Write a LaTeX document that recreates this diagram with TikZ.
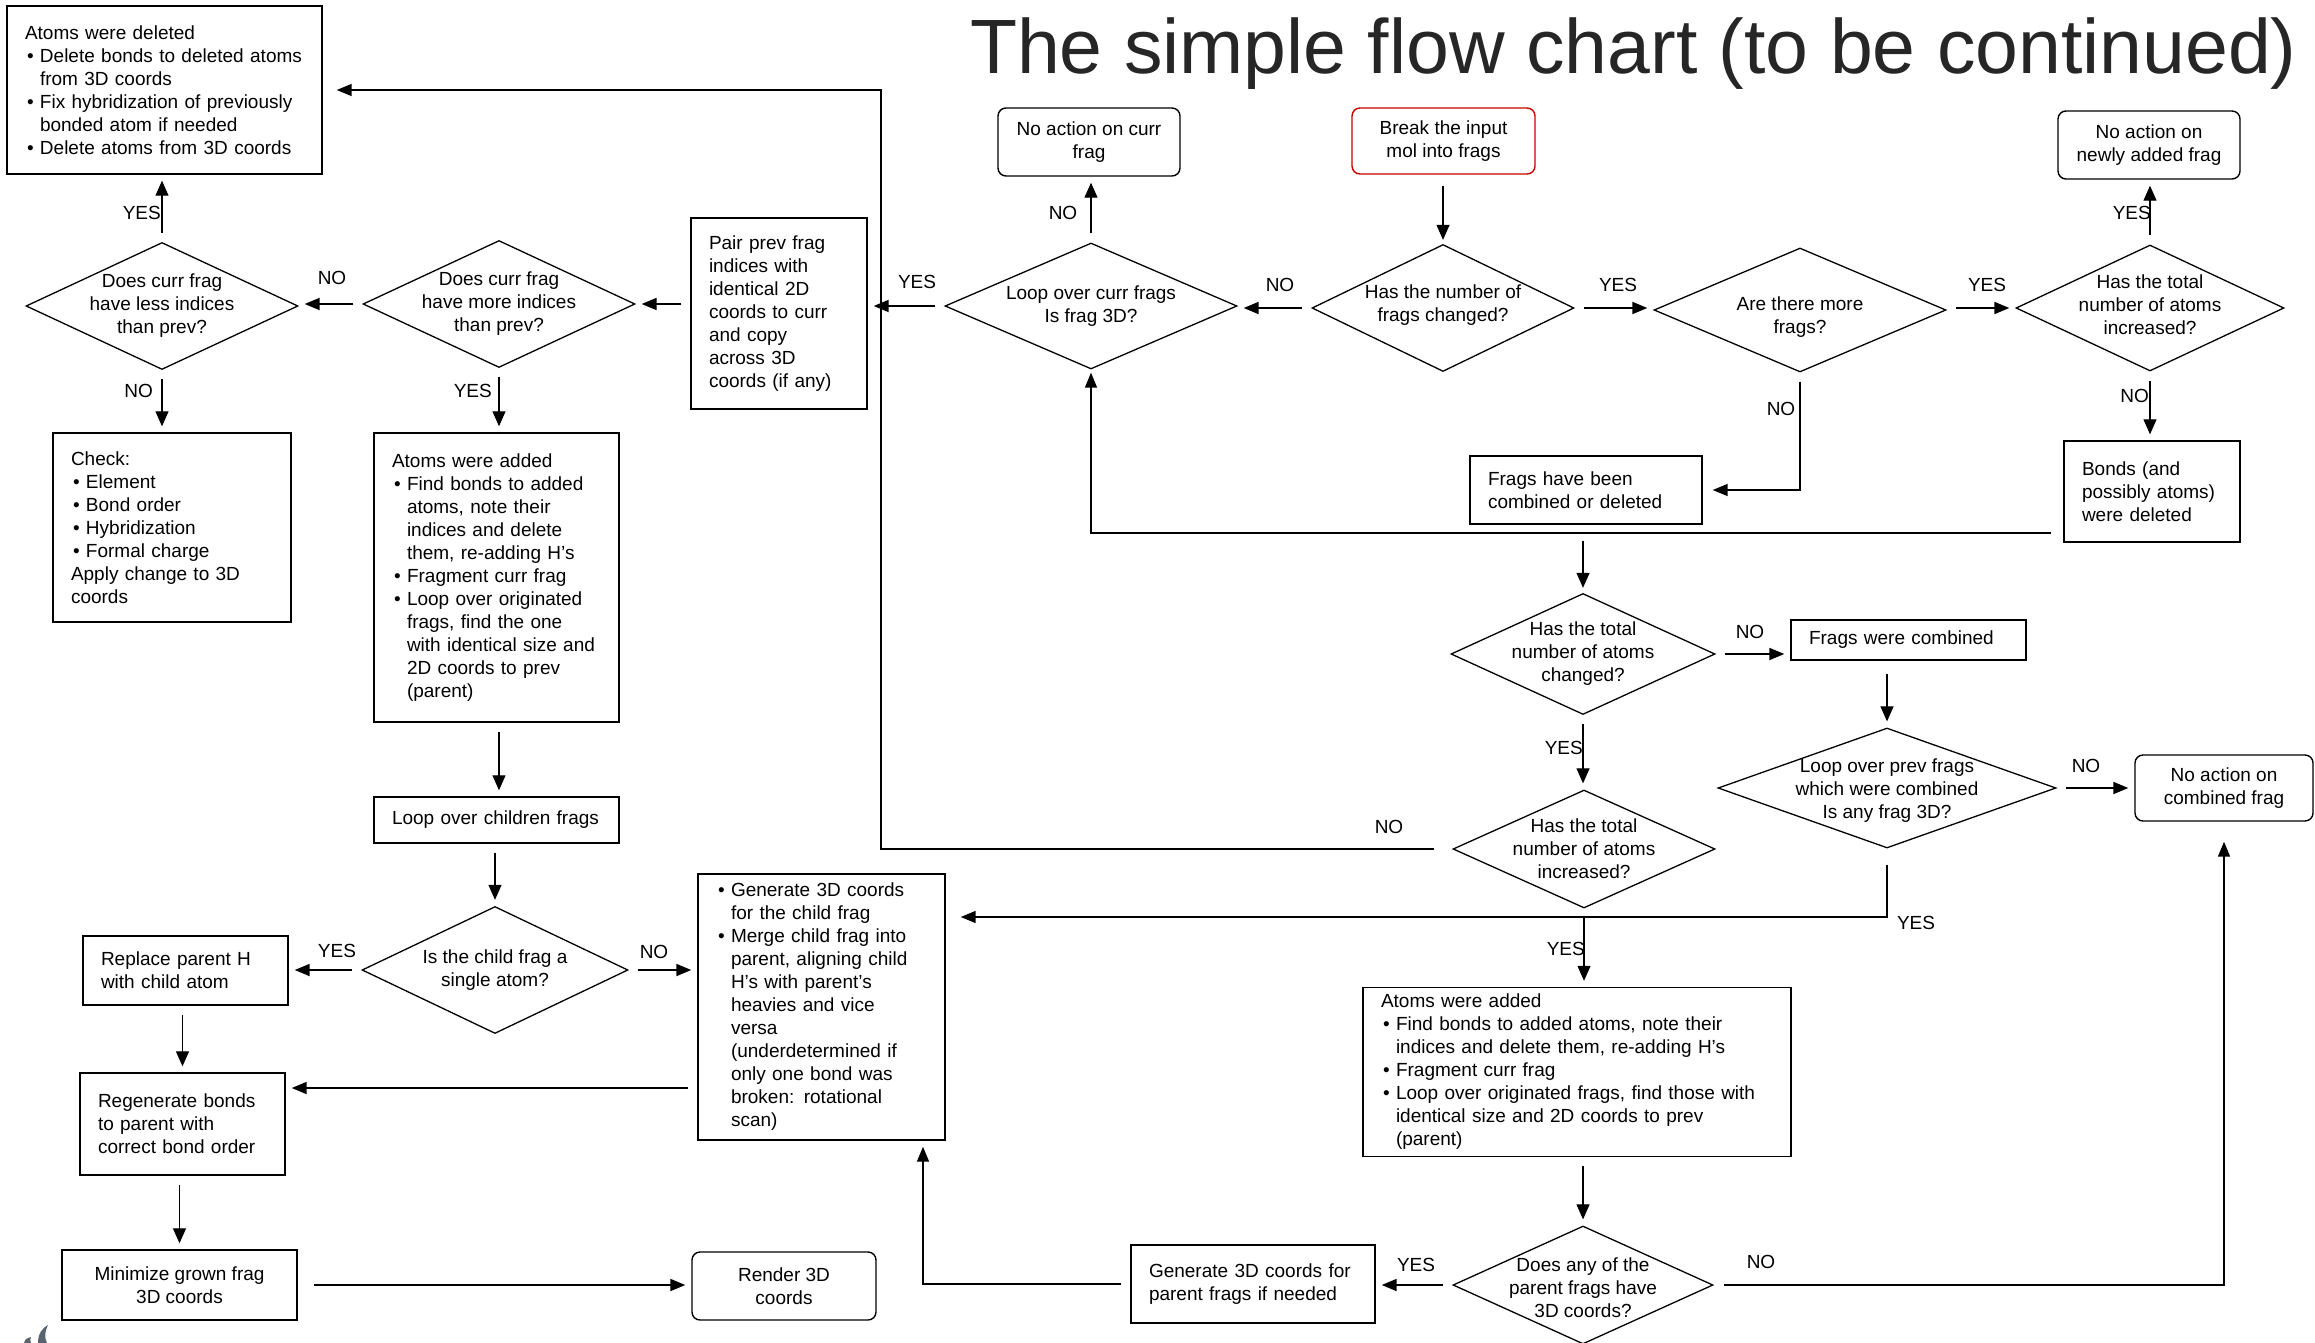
\documentclass[tikz,border=0pt]{standalone}
\usepackage{fontspec}
\setmainfont{Liberation Sans}
\usetikzlibrary{shapes.geometric,arrows.meta}
\definecolor{redline}{RGB}{200,0,0}
\definecolor{logogray}{RGB}{90,100,112}
\newcommand\bul{\hspace*{2pt}\makebox[13pt][l]{•}}
\newcommand\ind{\hspace*{15pt}}
\begin{document}
\begin{tikzpicture}[x=1pt,y=-1pt,
  every node/.style={font=\fontsize{19}{23}\selectfont},
  box/.style={draw, line width=1.4pt, rectangle, inner xsep=18pt, inner ysep=0pt, align=left},
  cbox/.style={draw, line width=1.4pt, rectangle, inner sep=0pt, align=center},
  rbox/.style={draw, line width=1.4pt, rounded corners=8pt, inner sep=0pt, align=center},
  dia/.style={draw, line width=1.3pt, diamond, inner sep=0pt},
  dtext/.style={align=center, inner sep=0pt},
  lbl/.style={inner sep=0pt},
  arr/.style={line width=1.5pt, -{Triangle[length=15pt,width=12pt]}, shorten <=9pt, shorten >=6pt},
  harr/.style={arr, line width=1.8pt},
  varr/.style={arr, line width=1.2pt, -{Triangle[length=15pt,width=13pt]}},
]
\useasboundingbox (0,0) rectangle (2315,1343);
\fill[white] (0,0) rectangle (2315,1343);

% title
\node[anchor=base east, inner sep=0pt, font=\fontsize{77}{80}\selectfont, text=black!85] (title) at (2297,74) {The simple flow chart (to be continued)};

% boxes
\node[box, minimum width=315pt, minimum height=168pt, text width=279pt] (delbox) at (164.5,90) {Atoms were deleted\\
\bul Delete bonds to deleted atoms\\
\ind from 3D coords\\
\bul Fix hybridization of previously\\
\ind bonded atom if needed\\
\bul Delete atoms from 3D coords};

\node[box, minimum width=238pt, minimum height=189pt, text width=202pt] (check) at (172,527.5) {Check:\\
\bul Element\\
\bul Bond order\\
\bul Hybridization\\
\bul Formal charge\\
Apply change to 3D\\
coords};

\node[box, minimum width=245pt, minimum height=289pt, text width=209pt] (addL) at (496.5,577.5) {Atoms were added\\
\bul Find bonds to added\\
\ind atoms, note their\\
\ind indices and delete\\
\ind them, re-adding H’s\\
\bul Fragment curr frag\\
\bul Loop over originated\\
\ind frags, find the one\\
\ind with identical size and\\
\ind 2D coords to prev\\
\ind (parent)};

\node[box, minimum width=176pt, minimum height=191pt, text width=140pt] (pair) at (779,313.5) {Pair prev frag\\
indices with\\
identical 2D\\
coords to curr\\
and copy\\
across 3D\\
coords (if any)};

\node[box, minimum width=245pt, minimum height=46pt, text width=209pt] (loopch) at (496.5,820) {Loop over children frags};

\node[box, minimum width=205pt, minimum height=69pt, text width=169pt] (replace) at (185.5,970.5) {Replace parent H\\with child atom};

\node[box, minimum width=247pt, minimum height=266pt, text width=211pt] (gen) at (821.5,1007) {\bul Generate 3D coords\\
\ind for the child frag\\
\bul Merge child frag into\\
\ind parent, aligning child\\
\ind H’s with parent’s\\
\ind heavies and vice\\
\ind versa\\
\ind (underdetermined if\\
\ind only one bond was\\
\ind broken: rotational\\
\ind scan)};

\node[box, minimum width=205pt, minimum height=102pt, text width=169pt] (regen) at (182.5,1124) {Regenerate bonds\\to parent with\\correct bond order};

\node[cbox, minimum width=235pt, minimum height=70pt] (minim) at (179.5,1285) {Minimize grown frag\\3D coords};

\node[rbox, minimum width=184pt, minimum height=68pt] (render) at (784,1286) {Render 3D\\coords};

\node[box, minimum width=244pt, minimum height=78pt, text width=208pt] (genpar) at (1253,1284) {Generate 3D coords for\\parent frags if needed};

\node[rbox, minimum width=182pt, minimum height=68pt] (noaccurr) at (1089,142) {No action on curr\\frag};

\node[rbox, draw=redline, minimum width=183pt, minimum height=66pt] (break) at (1443.5,141) {Break the input\\mol into frags};

\node[rbox, minimum width=182pt, minimum height=68pt] (noacnew) at (2149,145) {No action on\\newly added frag};

\node[box, minimum width=232pt, minimum height=68pt, text width=196pt] (fragsbeen) at (1586,490) {Frags have been\\combined or deleted};

\node[box, minimum width=176pt, minimum height=101pt, text width=140pt] (bonds) at (2152,491.5) {Bonds (and\\possibly atoms)\\were deleted};

\node[box, minimum width=235pt, minimum height=40pt, text width=199pt] (fragscomb) at (1908.5,640) {Frags were combined};

\node[rbox, minimum width=178pt, minimum height=66pt] (noaccomb) at (2224,788) {No action on\\combined frag};

\node[box, minimum width=428pt, minimum height=169pt, text width=392pt] (addR) at (1577,1072) {Atoms were added\\
\bul Find bonds to added atoms, note their\\
\ind indices and delete them, re-adding H’s\\
\bul Fragment curr frag\\
\bul Loop over originated frags, find those with\\
\ind identical size and 2D coords to prev\\
\ind (parent)};

% diamonds
\node[dia, minimum width=272pt, minimum height=127pt] (d1) at (162,306) {};
\node[dtext] (d1t) at (d1) {Does curr frag\\have less indices\\than prev?};
\node[dia, minimum width=272pt, minimum height=127pt] (d2) at (499,304) {};
\node[dtext] (d2t) at (d2) {Does curr frag\\have more indices\\than prev?};
\node[dia, minimum width=266pt, minimum height=127pt] (d3) at (495,970) {};
\node[dtext] (d3t) at (d3) {Is the child frag a\\single atom?};
\node[dia, minimum width=292pt, minimum height=126pt] (d4) at (1091,306) {};
\node[dtext] (d4t) at (d4) {Loop over curr frags\\Is frag 3D?};
\node[dia, minimum width=262pt, minimum height=127pt] (d5) at (1443,308) {};
\node[dtext] (d5t) at (1443,305) {Has the number of\\frags changed?};
\node[dia, minimum width=292pt, minimum height=124pt] (d6) at (1800,310) {};
\node[dtext] (d6t) at (1800,317) {Are there more\\frags?};
\node[dia, minimum width=268pt, minimum height=126pt] (d7) at (2150,308) {};
\node[dtext] (d7t) at (2150,305) {Has the total\\number of atoms\\increased?};
\node[dia, minimum width=264pt, minimum height=121pt] (d8) at (1583,654) {};
\node[dtext] (d8t) at (d8) {Has the total\\number of atoms\\changed?};
\node[dia, minimum width=262pt, minimum height=118pt] (d10) at (1584,849) {};
\node[dtext] (d10t) at (d10) {Has the total\\number of atoms\\increased?};
\node[dia, minimum width=338pt, minimum height=120pt] (d11) at (1887,788) {};
\node[dtext] (d11t) at (1887,791) {Loop over prev frags\\which were combined\\Is any frag 3D?};
\node[dia, minimum width=260pt, minimum height=118pt] (d9) at (1583,1285) {};
\node[dtext] (d9t) at (1583,1288) {Does any of the\\parent frags have\\3D coords?};

% helper coordinates
\coordinate (lpA) at (881,849);
\coordinate (lpB) at (881,90);
\coordinate (lpC) at (1091,533);
\coordinate (c1) at (923,1284);
\coordinate (c3) at (1887,917);

% connectors
\draw[varr] (d1.north) -- (d1.north |- delbox.south);
\draw[varr] (d1.south) -- (d1.south |- check.north);
\draw[harr] (d2.west) -- (d1.east |- d2.west);
\draw[harr] (pair.west |- d2.east) -- (d2.east);
\draw[varr] (d2.south) -- (d2.south |- addL.north);
\draw[varr] (addL.south -| d2.south) -- (loopch.north -| d2.south);
\draw[varr] (loopch.south -| d3.north) -- (d3.north);
\draw[harr] (d3.west) -- (replace.east |- d3.west);
\draw[harr] (d3.east) -- (gen.west |- d3.east);
\draw[varr] (replace.south -| regen.north) -- (regen.north);
\draw[harr] (gen.west |- 0,1088) -- (regen.east |- 0,1088);
\draw[varr] (regen.south -| minim.north) -- (minim.north);
\draw[harr, shorten <=16pt] (minim.east) -- (render.west |- minim.east);
\draw[arr] (genpar.west) -- (c1) -- (c1 |- gen.south);
\draw[harr] (d9.west) -- (genpar.east |- d9.west);
\draw[arr, shorten <=10pt, shorten >=20pt] (d9.east) -- (d9.east -| noaccomb.south) -- (noaccomb.south);
\draw[varr] (addR.south -| d9.north) -- (d9.north);
\draw[varr] (d10.south) -- (d10.south |- addR.north);
\draw[varr] (d8.south) -- (d8.south |- d10.north);
\draw[harr] (d8.east) -- (fragscomb.west |- d8.east);
\draw[varr, shorten <=13pt] (fragscomb.south -| d11.north) -- (d11.north);
\draw[harr] (d11.east) -- (noaccomb.west |- d11.east);
\draw[arr, shorten <=16pt, shorten >=15pt] (d11.south) -- (c3) -- (c3 -| gen.east);
\draw[arr, shorten <=18pt, shorten >=14pt] (d10.west) -- (lpA) -- (lpB) -- (lpB -| delbox.east);
\draw[arr, shorten <=12pt, shorten >=3pt] (bonds.west |- lpC) -- (lpC) -- (d4.south);
\draw[varr, shorten <=16pt, shorten >=5pt] (d8.north |- fragsbeen.south) -- (d8.north);
\draw[harr] (d4.west) -- (pair.east |- d4.west);
\draw[varr] (d4.north) -- (d4.north |- noaccurr.south);
\draw[varr, shorten <=11pt, shorten >=4pt] (break.south -| d5.north) -- (d5.north);
\draw[harr] (d5.west) -- (d4.east |- d5.west);
\draw[harr] (d5.east) -- (d6.west |- d5.east);
\draw[harr] (d6.east |- d7.west) -- (d7.west);
\draw[arr, shorten >=10pt] (d6.south) -- (d6.south |- fragsbeen.east) -- (fragsbeen.east);
\draw[varr] (d7.north) -- (d7.north |- noacnew.south);
\draw[varr] (d7.south) -- (d7.south |- bonds.north);

% labels
\node[lbl, anchor=east] (l1) at (161,213) {YES};
\node[lbl, anchor=east] (l2) at (153,391) {NO};
\node[lbl] (l3) at (332,278) {NO};
\node[lbl, anchor=east] (l4) at (492,391) {YES};
\node[lbl] (l5) at (917,282) {YES};
\node[lbl] (l6) at (1063,213) {NO};
\node[lbl] (l7) at (1280,285) {NO};
\node[lbl] (l8) at (1618,285) {YES};
\node[lbl] (l9) at (1987,285) {YES};
\node[lbl, anchor=east] (l10) at (2151,213) {YES};
\node[lbl, anchor=east] (l11) at (2149,396) {NO};
\node[lbl] (l12) at (1781,409) {NO};
\node[lbl] (l13) at (1750,632) {NO};
\node[lbl, anchor=east] (l14) at (1583,748) {YES};
\node[lbl] (l15) at (1389,827) {NO};
\node[lbl, anchor=east] (l16) at (1585,949) {YES};
\node[lbl] (l17) at (2086,766) {NO};
\node[lbl] (l18) at (1916,923) {YES};
\node[lbl] (l19) at (337,951) {YES};
\node[lbl] (l20) at (654,952) {NO};
\node[lbl] (l21) at (1416,1265) {YES};
\node[lbl] (l22) at (1761,1262) {NO};

% logo fragment
\fill[logogray] (38,1343) .. controls (38,1334) and (42,1328) .. (48,1325) .. controls (45,1331) and (44,1337) .. (47,1343) -- cycle;
\fill[logogray] (24,1343) .. controls (25,1339) and (28,1337) .. (31,1337) .. controls (30,1339) and (30,1341) .. (31,1343) -- cycle;
\end{tikzpicture}
\end{document}
